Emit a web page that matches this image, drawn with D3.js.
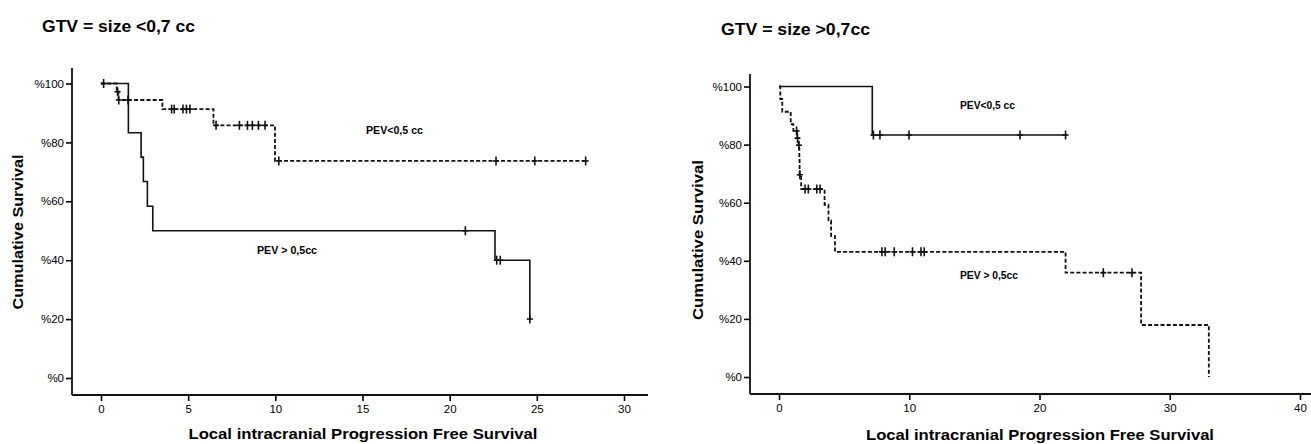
<!DOCTYPE html>
<html>
<head>
<meta charset="utf-8">
<script src="https://cdn.jsdelivr.net/npm/d3@7"></script>
<style>
  body { margin: 0; background: #fff; }
  svg { display: block; font-family: "Liberation Sans", Arial, sans-serif; }
</style>
</head>
<body>
<div id="chart"></div>
<script>
const yTicks = [0, 20, 40, 60, 80, 100];
const leftXTicks = [0, 5, 10, 15, 20, 25, 30];
const rightXTicks = [0, 10, 20, 30, 40];

// GTV < 0,7 cc : PEV > 0,5cc (solid)
const leftSolidTimes = [0, 1.57, 2.3, 2.43, 2.66, 2.97, 22.6, 24.6];
const leftSolidSurv = [100, 83.3, 75, 66.7, 58.3, 50, 40, 20];
const leftSolidEnd = 24.6;
const leftSolidCensored = [0.15, 20.9, 22.7, 22.9, 24.6];

// GTV < 0,7 cc : PEV < 0,5 cc (dashed)
const leftDashTimes = [0, 0.9, 1.0, 3.52, 6.45, 9.98];
const leftDashSurv = [100, 97.2, 94.4, 91.3, 85.8, 73.7];
const leftDashEnd = 27.8;
const leftDashCensored = [0.95, 1.02, 1.55, 4.05, 4.2, 4.7, 4.9, 5.1, 6.6, 7.94, 8.4, 8.68, 9.03, 9.41, 10.2, 22.66, 24.88, 27.8];

// GTV > 0,7cc : PEV < 0,5 cc (solid)
const rightSolidTimes = [0, 7.16];
const rightSolidSurv = [100, 83.3];
const rightSolidEnd = 22.0;
const rightSolidCensored = [7.25, 7.75, 9.98, 18.5, 22.0];

// GTV > 0,7cc : PEV > 0,5cc (dashed)
const rightDashTimes = [0, 0.1, 0.25, 0.9, 1.1, 1.38, 1.5, 1.56, 1.58, 1.7, 3.5, 3.8, 4.0, 4.3, 22.0, 27.8, 33.0];
const rightDashSurv = [100, 95.7, 91.3, 87.0, 84.7, 82.2, 79.8, 74.8, 69.6, 64.7, 59.3, 53.9, 48.5, 43.1, 35.9, 17.9, 0];
const rightDashEnd = 33.0;
const rightDashCensored = [1.35, 1.42, 1.53, 1.6, 2.0, 2.25, 2.9, 3.15, 7.9, 8.15, 8.85, 10.25, 10.9, 11.15, 24.9, 27.1];

const svg = d3.select("#chart").append("svg").attr("width", 1311).attr("height", 444);

function stepValue(times, surv, t) {
  let v = surv[0];
  times.forEach((d, i) => { if (d <= t) v = surv[i]; });
  return v;
}

function drawPanel(p) {
  const x = d3.scaleLinear().domain(p.xDomain).range(p.xRange);
  const y = d3.scaleLinear().domain([0, 100]).range(p.yRange);
  const g = svg.append("g");

  // title
  g.append("text")
    .attr("x", p.title.x).attr("y", p.title.y)
    .attr("textLength", p.title.w).attr("lengthAdjust", "spacingAndGlyphs")
    .style("font-size", "17px").style("font-weight", "bold")
    .text(p.title.text);

  // axes
  const yAxis = g.append("g")
    .attr("transform", `translate(${p.axisX},0)`)
    .style("color", "#000")
    .call(d3.axisLeft(y).tickValues(yTicks).tickFormat((d) => "%" + d).tickSize(6).tickPadding(2));
  yAxis.select(".domain").remove();

  const xAxis = g.append("g")
    .attr("transform", `translate(0,${p.axisY})`)
    .style("color", "#000")
    .call(d3.axisBottom(x).tickValues(p.xTicks).tickSize(6).tickPadding(4));
  xAxis.select(".domain").remove();

  g.selectAll(".tick line").attr("stroke-width", 1.6);
  g.selectAll(".tick text").style("font-size", "11.5px");

  g.append("line")
    .attr("x1", p.axisX).attr("x2", p.axisX)
    .attr("y1", p.axisTop).attr("y2", p.axisY)
    .attr("stroke", "#111").attr("stroke-width", 1.8);
  g.append("line")
    .attr("x1", p.axisX).attr("x2", p.axisRight)
    .attr("y1", p.axisY).attr("y2", p.axisY)
    .attr("stroke", "#111").attr("stroke-width", 1.8);

  // axis titles
  g.append("text")
    .attr("x", p.xTitle.x).attr("y", p.xTitle.y)
    .attr("text-anchor", "middle")
    .attr("textLength", p.xTitle.w).attr("lengthAdjust", "spacingAndGlyphs")
    .style("font-size", "14.5px").style("font-weight", "bold")
    .text("Local intracranial Progression Free Survival");

  g.append("text")
    .attr("transform", `translate(${p.yTitle.x},${p.yTitle.y}) rotate(-90)`)
    .attr("text-anchor", "middle")
    .attr("textLength", p.yTitle.w).attr("lengthAdjust", "spacingAndGlyphs")
    .style("font-size", "14px").style("font-weight", "bold")
    .text("Cumulative Survival");

  // curves
  const line = d3.line().x((d) => x(d[0])).y((d) => y(d[1])).curve(d3.curveStepAfter);
  p.curves.forEach((c) => {
    const pts = c.times.map((t, i) => [t, c.surv[i]]);
    pts.push([c.end, c.surv[c.surv.length - 1]]);
    g.append("path")
      .datum(pts)
      .attr("d", line)
      .attr("fill", "none")
      .attr("stroke", "#111")
      .attr("stroke-width", c.dashed ? 1.8 : 1.6)
      .attr("stroke-dasharray", c.dashed ? "4,2.2" : null);

    const marks = g.selectAll(null)
      .data(c.censored)
      .enter()
      .append("g")
      .attr("transform", (t) => `translate(${x(t)},${y(stepValue(c.times, c.surv, t))})`);
    marks.append("line").attr("y1", -4.5).attr("y2", 4.5)
      .attr("stroke", "#111").attr("stroke-width", 1.6);
    marks.append("line").attr("x1", -3).attr("x2", 3)
      .attr("stroke", "#111").attr("stroke-width", 1.6);
  });

  // curve labels
  p.labels.forEach((l) => {
    g.append("text")
      .attr("x", l.x).attr("y", l.y)
      .attr("textLength", l.w).attr("lengthAdjust", "spacingAndGlyphs")
      .style("font-size", "11px").style("font-weight", "bold")
      .text(l.text);
  });
}

drawPanel({
  title: { text: "GTV = size <0,7 cc", x: 42, y: 32, w: 153 },
  xDomain: [0, 30], xRange: [101, 624], yRange: [378, 83.5],
  xTicks: leftXTicks,
  axisX: 72, axisY: 395, axisTop: 68, axisRight: 648,
  xTitle: { x: 363, y: 439, w: 349 },
  yTitle: { x: 23, y: 232, w: 155 },
  curves: [
    { times: leftSolidTimes, surv: leftSolidSurv, end: leftSolidEnd, censored: leftSolidCensored, dashed: false },
    { times: leftDashTimes, surv: leftDashSurv, end: leftDashEnd, censored: leftDashCensored, dashed: true }
  ],
  labels: [
    { text: "PEV<0,5 cc", x: 366, y: 134, w: 57 },
    { text: "PEV > 0,5cc", x: 257, y: 254, w: 60 }
  ]
});

drawPanel({
  title: { text: "GTV = size >0,7cc", x: 721, y: 35, w: 149 },
  xDomain: [0, 40], xRange: [779, 1300], yRange: [377, 86.5],
  xTicks: rightXTicks,
  axisX: 750, axisY: 394, axisTop: 74, axisRight: 1311,
  xTitle: { x: 1040, y: 440, w: 348 },
  yTitle: { x: 703, y: 240, w: 160 },
  curves: [
    { times: rightSolidTimes, surv: rightSolidSurv, end: rightSolidEnd, censored: rightSolidCensored, dashed: false },
    { times: rightDashTimes, surv: rightDashSurv, end: rightDashEnd, censored: rightDashCensored, dashed: true }
  ],
  labels: [
    { text: "PEV<0,5 cc", x: 960, y: 109, w: 55 },
    { text: "PEV > 0,5cc", x: 960, y: 279, w: 58 }
  ]
});
</script>
</body>
</html>
